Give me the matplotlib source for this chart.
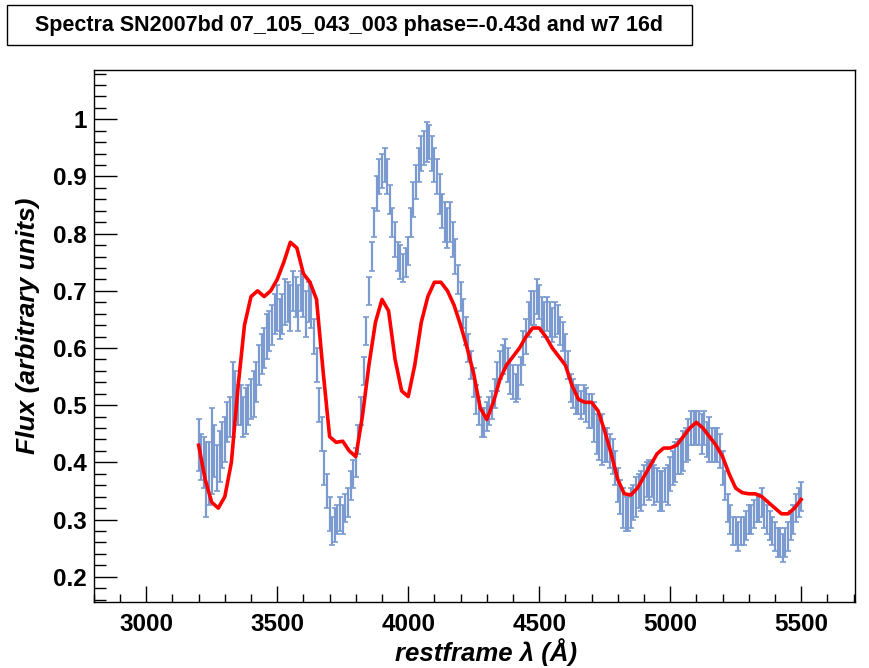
import numpy as np
import matplotlib
matplotlib.use("Agg")
import matplotlib.pyplot as plt
from matplotlib.ticker import MultipleLocator
from matplotlib.patches import Rectangle

plt.rcParams['font.family'] = ['Liberation Sans', 'DejaVu Sans']

title = "Spectra SN2007bd 07_105_043_003 phase=-0.43d and w7 16d"

# observed spectrum, one value every 10 A from 3200 to 5500
wave_obs = np.arange(3200, 5501, 10)
flux_obs = [
    0.43, 0.41, 0.40, 0.37, 0.38, 0.42, 0.42, 0.39, 0.41, 0.43,  # 3200
    0.44, 0.47, 0.48, 0.51, 0.52, 0.50, 0.50, 0.48, 0.49, 0.50,  # 3300
    0.51, 0.52, 0.54, 0.57, 0.59, 0.60, 0.62, 0.63, 0.64, 0.66,  # 3400
    0.67, 0.65, 0.66, 0.68, 0.68, 0.67, 0.70, 0.69, 0.67, 0.70,  # 3500
    0.69, 0.66, 0.68, 0.67, 0.62, 0.57, 0.50, 0.45, 0.39, 0.35,  # 3600
    0.31, 0.28, 0.29, 0.30, 0.31, 0.30, 0.32, 0.33, 0.36, 0.38,  # 3700
    0.40, 0.44, 0.49, 0.56, 0.63, 0.70, 0.76, 0.82, 0.87, 0.90,  # 3800
    0.91, 0.92, 0.90, 0.86, 0.82, 0.79, 0.76, 0.75, 0.74, 0.75,  # 3900
    0.77, 0.82, 0.86, 0.89, 0.92, 0.94, 0.95, 0.96, 0.96, 0.94,  # 4000
    0.92, 0.90, 0.87, 0.84, 0.82, 0.81, 0.82, 0.79, 0.76, 0.72,  # 4100
    0.69, 0.66, 0.63, 0.60, 0.57, 0.54, 0.51, 0.49, 0.47, 0.47,  # 4200
    0.48, 0.49, 0.50, 0.52, 0.55, 0.57, 0.58, 0.59, 0.57, 0.55,  # 4300
    0.54, 0.53, 0.54, 0.56, 0.60, 0.62, 0.65, 0.67, 0.67, 0.69,  # 4400
    0.68, 0.66, 0.65, 0.66, 0.65, 0.64, 0.65, 0.65, 0.63, 0.62,  # 4500
    0.60, 0.57, 0.53, 0.52, 0.51, 0.51, 0.50, 0.51, 0.50, 0.49,  # 4600
    0.49, 0.47, 0.45, 0.44, 0.44, 0.43, 0.43, 0.42, 0.41, 0.39,  # 4700
    0.36, 0.34, 0.32, 0.31, 0.31, 0.32, 0.33, 0.34, 0.35, 0.35,  # 4800
    0.36, 0.37, 0.37, 0.37, 0.36, 0.36, 0.35, 0.35, 0.36, 0.36,  # 4900
    0.38, 0.39, 0.40, 0.41, 0.41, 0.42, 0.43, 0.44, 0.46, 0.46,  # 5000
    0.46, 0.46, 0.45, 0.46, 0.44, 0.44, 0.43, 0.43, 0.43, 0.42,  # 5100
    0.39, 0.36, 0.32, 0.30, 0.28, 0.28, 0.27, 0.28, 0.28, 0.29,  # 5200
    0.30, 0.30, 0.31, 0.32, 0.32, 0.33, 0.31, 0.30, 0.29, 0.28,  # 5300
    0.27, 0.26, 0.26, 0.25, 0.26, 0.27, 0.29, 0.30, 0.32, 0.33,  # 5400
    0.34]
err_obs = [
    0.045, 0.04, 0.045, 0.065, 0.055, 0.075, 0.045, 0.04, 0.045, 0.04,
    0.04, 0.035, 0.035, 0.065, 0.04, 0.035, 0.035, 0.035, 0.04, 0.035,
    0.035, 0.04, 0.035, 0.035, 0.035, 0.035, 0.04, 0.035, 0.035, 0.035,
    0.04, 0.035, 0.035, 0.04, 0.035, 0.04, 0.035, 0.035, 0.04, 0.035,
    0.035, 0.04, 0.035, 0.035, 0.03, 0.03, 0.03, 0.03, 0.03, 0.03,
    0.03, 0.025, 0.03, 0.025, 0.03, 0.025, 0.025, 0.025, 0.025, 0.025,
    0.025, 0.025, 0.025, 0.025, 0.025, 0.025, 0.025, 0.025, 0.03, 0.03,
    0.03, 0.03, 0.03, 0.025, 0.025, 0.03, 0.025, 0.03, 0.025, 0.025,
    0.025, 0.025, 0.03, 0.03, 0.03, 0.03, 0.03, 0.035, 0.03, 0.03,
    0.03, 0.03, 0.035, 0.03, 0.035, 0.035, 0.035, 0.03, 0.03, 0.025,
    0.025, 0.025, 0.025, 0.025, 0.025, 0.025, 0.025, 0.025, 0.025, 0.025,
    0.025, 0.025, 0.025, 0.025, 0.025, 0.025, 0.025, 0.025, 0.03, 0.03,
    0.03, 0.025, 0.03, 0.025, 0.03, 0.03, 0.03, 0.03, 0.03, 0.03,
    0.03, 0.03, 0.03, 0.03, 0.03, 0.03, 0.03, 0.025, 0.025, 0.025,
    0.025, 0.025, 0.025, 0.025, 0.025, 0.025, 0.025, 0.025, 0.03, 0.03,
    0.03, 0.035, 0.035, 0.035, 0.045, 0.03, 0.03, 0.03, 0.03, 0.03,
    0.03, 0.03, 0.035, 0.03, 0.03, 0.035, 0.03, 0.035, 0.03, 0.035,
    0.035, 0.03, 0.035, 0.03, 0.035, 0.03, 0.035, 0.035, 0.03, 0.035,
    0.03, 0.03, 0.035, 0.03, 0.03, 0.035, 0.03, 0.035, 0.03, 0.03,
    0.03, 0.03, 0.035, 0.03, 0.03, 0.04, 0.03, 0.03, 0.03, 0.03,
    0.03, 0.025, 0.025, 0.025, 0.025, 0.025, 0.025, 0.025, 0.025, 0.025,
    0.025, 0.025, 0.025, 0.025, 0.025, 0.025, 0.025, 0.025, 0.025, 0.025,
    0.025, 0.025, 0.025, 0.025, 0.025, 0.025, 0.025, 0.025, 0.025, 0.025,
    0.025]

# w7 model, every 25 A
wave_mod = np.arange(3200, 5501, 25)
flux_mod = [0.43, 0.37, 0.33, 0.32, 0.34, 0.40, 0.53, 0.64, 0.69, 0.70,
            0.69, 0.70, 0.72, 0.75, 0.785, 0.775, 0.73, 0.715, 0.685, 0.56,
            0.445, 0.435, 0.437, 0.42, 0.41, 0.48, 0.57, 0.645, 0.685, 0.665,
            0.58, 0.525, 0.515, 0.57, 0.645, 0.69, 0.715, 0.715, 0.70, 0.675,
            0.64, 0.60, 0.555, 0.495, 0.475, 0.505, 0.545, 0.57, 0.585, 0.60,
            0.62, 0.635, 0.635, 0.62, 0.60, 0.585, 0.57, 0.535, 0.51, 0.505,
            0.505, 0.49, 0.455, 0.415, 0.37, 0.345, 0.343, 0.355, 0.375, 0.395,
            0.415, 0.425, 0.425, 0.43, 0.445, 0.46, 0.47, 0.46, 0.445, 0.43,
            0.41, 0.38, 0.355, 0.347, 0.345, 0.345, 0.34, 0.33, 0.32, 0.31,
            0.31, 0.32, 0.335]

blue = '#7b9bd0'

fig = plt.figure(figsize=(8.69, 6.68), dpi=100)
ax = fig.add_axes([0.108, 0.099, 0.876, 0.796])

ax.errorbar(wave_obs, flux_obs, yerr=err_obs, fmt='none', ecolor=blue,
            elinewidth=1.6, capsize=2.4, capthick=1.2)
ax.plot(wave_mod, flux_mod, color='#ff0000', lw=2.6)

ax.set_xlim(2800, 5706)
ax.set_ylim(0.156, 1.086)

ax.xaxis.set_major_locator(MultipleLocator(500))
ax.xaxis.set_minor_locator(MultipleLocator(100))
ax.yaxis.set_major_locator(MultipleLocator(0.1))
ax.yaxis.set_minor_locator(MultipleLocator(0.02))
ax.yaxis.set_major_formatter(plt.FuncFormatter(lambda v, p: ('%g' % round(v, 2))))

ax.tick_params(axis='x', which='major', direction='in', length=11.5, width=1.0,
               top=False, labelsize=17.5, pad=8)
ax.tick_params(axis='x', which='minor', direction='in', length=5.8, width=1.0, top=False)
ax.tick_params(axis='y', which='major', direction='in', length=16.5, width=1.0,
               right=False, labelsize=17.5, pad=5)
ax.tick_params(axis='y', which='minor', direction='in', length=8.3, width=1.0, right=False)
for lab in ax.get_xticklabels() + ax.get_yticklabels():
    lab.set_fontweight('bold')
for s in ax.spines.values():
    s.set_linewidth(1.0)

ax.set_xlabel(u"restframe \u03bb (\u00c5)", fontsize=18.5, fontweight='bold',
              fontstyle='italic', va='center')
ax.set_ylabel("Flux (arbitrary units)", fontsize=19, fontweight='bold',
              fontstyle='italic', va='center')
ax.xaxis.set_label_coords(0.515, -0.094)
ax.yaxis.set_label_coords(-0.087, 0.52)

fig.patches.append(Rectangle((0.008, 0.933), 0.788, 0.0595, transform=fig.transFigure,
                             fill=False, edgecolor='black', lw=1.0))
fig.text(0.402, 0.9625, title, ha='center', va='center', fontsize=15.5,
         fontweight='bold')

fig.savefig('out.png', dpi=100)
